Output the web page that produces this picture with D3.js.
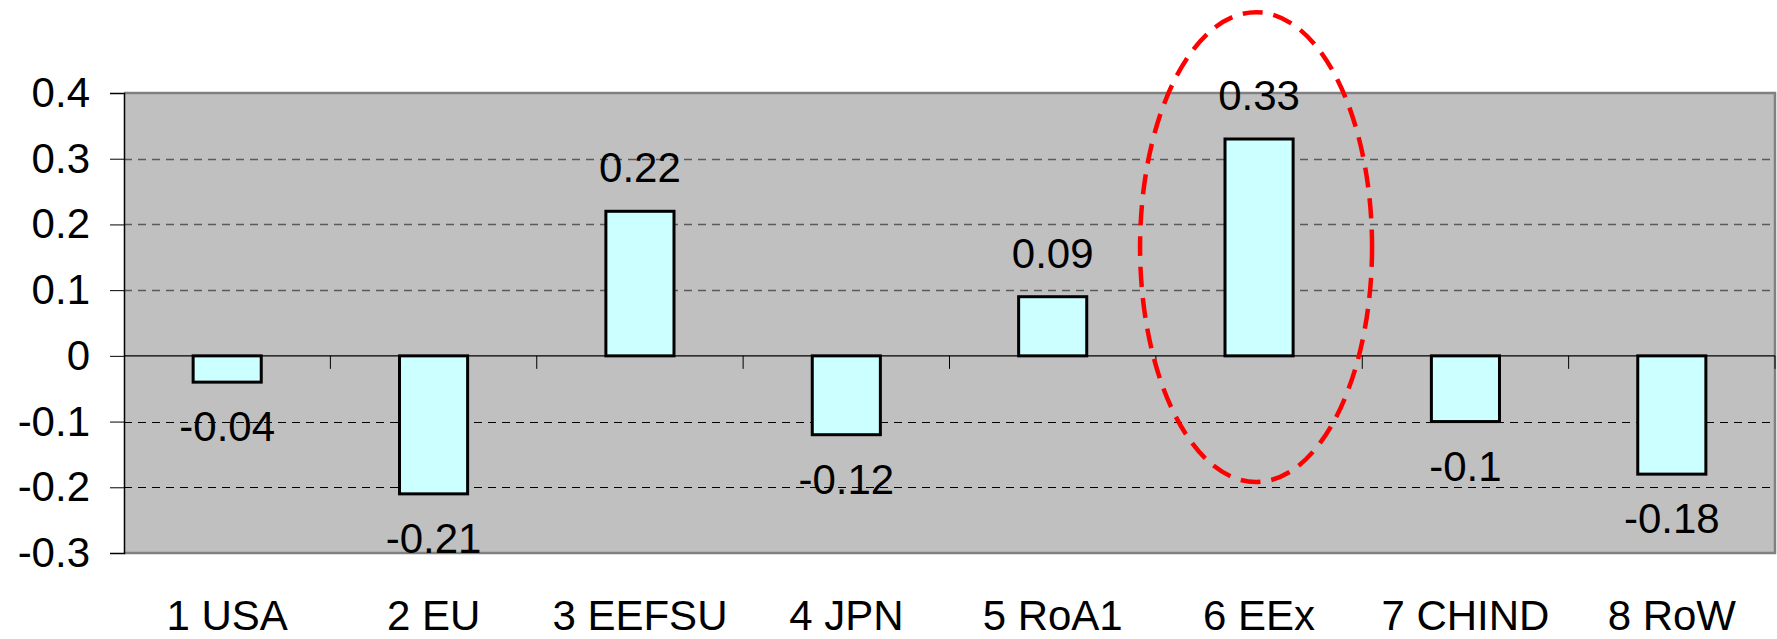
<!DOCTYPE html>
<html lang="en">
<head>
    <meta charset="UTF-8">
    <title>Regional change</title>
    <style>
        body {
            margin: 0;
            padding: 0;
            background-color: #ffffff;
        }
        svg text {
            font-family: "Liberation Sans", Arial, sans-serif;
            fill: #000;
        }
    </style>
    <script src="https://d3js.org/d3.v7.min.js"></script>
</head>
<body>
    <script>
        const width = 1777;
        const height = 639;

        // data
        const regions = ["1 USA", "2 EU", "3 EEFSU", "4 JPN", "5 RoA1", "6 EEx", "7 CHIND", "8 RoW"];
        const values = [-0.04, -0.21, 0.22, -0.12, 0.09, 0.33, -0.1, -0.18];
        const yTicks = [-0.3, -0.2, -0.1, 0, 0.1, 0.2, 0.3, 0.4];
        // highlighted region and vertical extent of the ellipse (in data units)
        const highlightRegion = "6 EEx";
        const highlightSpan = [-0.192, 0.523];

        const margin = { top: 93, right: 2, bottom: 86, left: 124 };
        const plotW = width - margin.left - margin.right;
        const plotH = height - margin.top - margin.bottom;

        // plain hyphen for negatives, like the original
        const fmt = d => String(+d.toFixed(2));

        const svg = d3.select("body").append("svg")
            .attr("width", width)
            .attr("height", height);

        const g = svg.append("g")
            .attr("transform", `translate(${margin.left},${margin.top})`);

        const x = d3.scaleBand()
            .domain(regions)
            .range([0, plotW])
            .paddingInner(0.67)
            .paddingOuter(0.335);

        const y = d3.scaleLinear()
            .domain([-0.3, 0.4])
            .range([plotH, 0]);

        // plot background
        g.append("rect")
            .attr("x", 0)
            .attr("y", 0)
            .attr("width", plotW)
            .attr("height", plotH)
            .attr("fill", "#c0c0c0");

        // grid lines
        g.selectAll("line.grid")
            .data(yTicks.filter(d => d !== 0 && d !== 0.4 && d !== -0.3))
            .enter().append("line")
            .attr("class", "grid")
            .attr("x1", 0)
            .attr("x2", plotW)
            .attr("y1", d => Math.round(y(d)) + 0.5)
            .attr("y2", d => Math.round(y(d)) + 0.5)
            .attr("stroke", d => d > 0 ? "#5a5a5a" : "#000")
            .attr("stroke-width", d => d > 0 ? 1.4 : 1)
            .attr("stroke-dasharray", "8,6");

        // frame (top, right, bottom)
        g.append("path")
            .attr("d", `M0,0H${plotW}V${plotH}H0`)
            .attr("fill", "none")
            .attr("stroke", "#808080")
            .attr("stroke-width", 2.5);

        // y axis
        const yAxis = g.append("g")
            .call(d3.axisLeft(y).tickValues(yTicks).tickSize(14).tickPadding(20)
                .tickFormat(fmt));
        yAxis.select(".domain").attr("stroke", "#000").attr("stroke-width", 1.5);
        yAxis.selectAll(".tick line").attr("stroke", "#000");
        yAxis.selectAll("text")
            .style("font-size", "42px")
            .attr("fill", "#000");

        // zero line with category ticks
        const boundaries = d3.range(1, regions.length + 1).map(i => i * x.step());
        g.append("line")
            .attr("x1", 0)
            .attr("x2", plotW)
            .attr("y1", y(0))
            .attr("y2", y(0))
            .attr("stroke", "#000")
            .attr("stroke-width", 1.2);
        g.selectAll("line.xtick")
            .data(boundaries)
            .enter().append("line")
            .attr("class", "xtick")
            .attr("x1", d => d)
            .attr("x2", d => d)
            .attr("y1", y(0))
            .attr("y2", y(0) + 13)
            .attr("stroke", "#000")
            .attr("stroke-width", 1);

        // bars
        g.selectAll("rect.bar")
            .data(values)
            .enter().append("rect")
            .attr("class", "bar")
            .attr("x", (d, i) => x(regions[i]))
            .attr("width", x.bandwidth())
            .attr("y", d => y(Math.max(0, d)))
            .attr("height", d => Math.abs(y(d) - y(0)))
            .attr("fill", "#ccffff")
            .attr("stroke", "#000")
            .attr("stroke-width", 3);

        // value labels
        g.selectAll("text.val")
            .data(values)
            .enter().append("text")
            .attr("class", "val")
            .attr("x", (d, i) => x(regions[i]) + x.bandwidth() / 2)
            .attr("y", d => d >= 0 ? y(d) - 29 : y(d) + 59)
            .attr("text-anchor", "middle")
            .style("font-size", "42px")
            .text(fmt);

        // category labels
        g.selectAll("text.cat")
            .data(regions)
            .enter().append("text")
            .attr("class", "cat")
            .attr("x", d => x(d) + x.bandwidth() / 2)
            .attr("y", plotH + 77)
            .attr("text-anchor", "middle")
            .style("font-size", "42px")
            .text(d => d);

        // highlight ellipse
        const ry = (y(highlightSpan[0]) - y(highlightSpan[1])) / 2;
        g.append("ellipse")
            .attr("cx", x(highlightRegion) + x.bandwidth() / 2 - 3)
            .attr("cy", (y(highlightSpan[0]) + y(highlightSpan[1])) / 2)
            .attr("rx", 116)
            .attr("ry", ry)
            .attr("fill", "none")
            .attr("stroke", "#ff0000")
            .attr("stroke-width", 4.5)
            .attr("stroke-dasharray", "20,11");
    </script>
</body>
</html>
